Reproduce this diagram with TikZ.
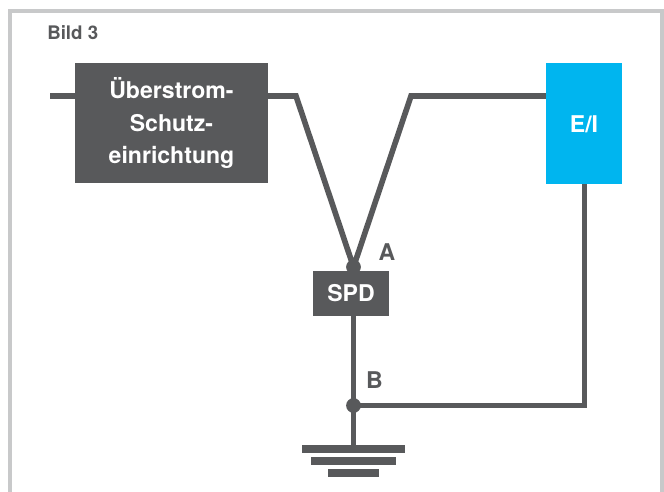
\documentclass[tikz,border=0pt]{standalone}
\usepackage{fontspec}
\setmainfont{TeX Gyre Heros}
\usetikzlibrary{positioning}
\definecolor{darkgrey}{HTML}{58595B}
\definecolor{framegrey}{HTML}{C8C9CA}
\definecolor{eiblue}{HTML}{00B5EF}
\tikzset{
  box/.style={fill=darkgrey, text=white, inner sep=0pt, align=center, font=\fontsize{16.4}{23}\selectfont\bfseries},
  label/.style={text=darkgrey, inner sep=0pt, font=\fontsize{16.4}{20}\selectfont\bfseries},
  wire/.style={draw=darkgrey, line width=4pt},
  dot/.style={circle, fill=darkgrey, inner sep=0pt, minimum size=10.5pt},
  bar/.style={fill=darkgrey, inner sep=0pt, minimum height=5.7pt}
}
\begin{document}
\begin{tikzpicture}[x=0.025cm, y=-0.025cm]
    \useasboundingbox (0, 0) rectangle (664, 492);

    \draw [framegrey, line width=3.2pt] (10, 492) -- (10, 11) -- (662, 11) -- (662, 492);

    \node [label, anchor=west, font=\fontsize{13.3}{16}\selectfont\bfseries] (title) at (47, 33) {Bild 3};

    \coordinate (in) at (50, 96);
    \coordinate (bendl) at (296, 96);
    \coordinate (bendr) at (411, 96);
    \coordinate (bendb) at (584.5, 405.5);

    \node [dot] (a) at (353.5, 267) {};
    \node [dot] (b) at (353.5, 405.5) {};

    % wires first, boxes on top
    \node [bar, minimum width=73.5pt] (g1) at (353.5, 449) {};
    \node [bar, minimum width=61pt] (g2) at (353.5, 461) {};
    \node [bar, minimum width=36.5pt] (g3) at (353.5, 473) {};

    \draw [wire] (in) -- (75, 96);
    \draw [wire] (268, 96) -- (bendl) -- (a.center) -- (bendr) -- (546, 96);
    \draw [wire] (a.center) -- (b.center) -- (g1.center);
    \draw [wire] (b.center) -- (bendb) -- (584.5, 184);

    \node [box, minimum width=137.3pt, minimum height=85.4pt] (ocp) at (171.5, 123) {Überstrom-\\Schutz-\\einrichtung};
    \node [box, fill=eiblue, minimum width=54pt, minimum height=86pt, text depth=0pt, yshift=-1pt] (ei) at (584, 122.5) {E/I};
    \node [box, minimum width=54pt, minimum height=32pt] (spd) at (351, 293.5) {SPD};

    \node [label] (la) at (387, 252.5) {A};
    \node [label] (lb) at (374.5, 380) {B};
  \end{tikzpicture}
\end{document}
